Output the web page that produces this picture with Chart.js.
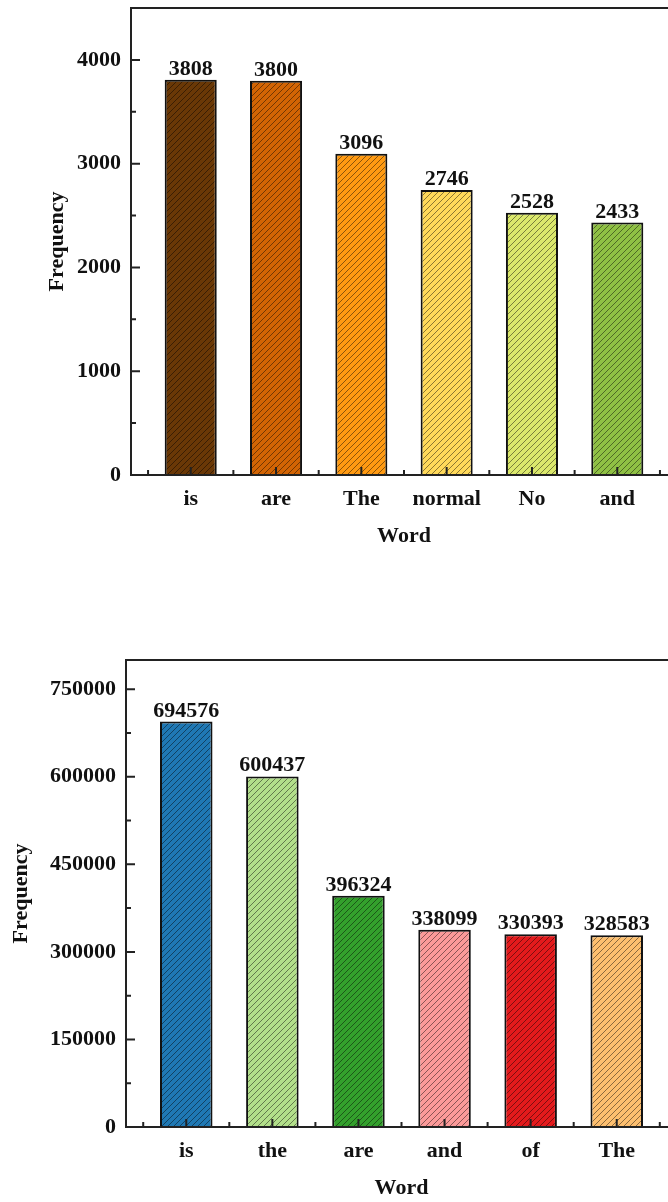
<!DOCTYPE html>
<html>
<head>
<meta charset="utf-8">
<script src="https://cdn.jsdelivr.net/npm/chart.js@4"></script>
<style>
  html, body { margin: 0; padding: 0; overflow: hidden; background: #fff; }
  .box { position: absolute; left: 0; width: 720px; height: 551px; }
</style>
</head>
<body>
<div class="box" style="top:0"><canvas id="topChart" width="720" height="551"></canvas></div>
<div class="box" style="top:652px"><canvas id="bottomChart" width="720" height="551"></canvas></div>
<script>
const topWords = ['is', 'are', 'The', 'normal', 'No', 'and'];
const topFreq = [3808, 3800, 3096, 2746, 2528, 2433];
const topColors = ['#6a3806', '#d26404', '#ff9a12', '#ffd95a', '#dbe86c', '#8fc044'];
const topYTicks = [0, 1000, 2000, 3000, 4000];

const bottomWords = ['is', 'the', 'are', 'and', 'of', 'The'];
const bottomFreq = [694576, 600437, 396324, 338099, 330393, 328583];
const bottomColors = ['#1f78b4', '#b2df8a', '#33a02c', '#fb9a99', '#e31a1c', '#fdbf6f'];
const bottomYTicks = [0, 150000, 300000, 450000, 600000, 750000];

Chart.defaults.font.family = '"Liberation Serif", "Times New Roman", serif';
Chart.defaults.font.size = 22;
Chart.defaults.font.weight = 'bold';
Chart.defaults.color = '#111';

// diagonal hatch over the fill colour
function hatch(color) {
    const c = document.createElement('canvas');
    c.width = 6; c.height = 6;
    const g = c.getContext('2d');
    g.fillStyle = color;
    g.fillRect(0, 0, 6, 6);
    g.strokeStyle = 'rgba(0, 0, 0, 0.45)';
    g.lineWidth = 1;
    g.beginPath();
    g.moveTo(0, 6); g.lineTo(6, 0);
    g.moveTo(-1, 1); g.lineTo(1, -1);
    g.moveTo(5, 7); g.lineTo(7, 5);
    g.stroke();
    return g.createPattern(c, 'repeat');
}

// box, inward ticks and value labels
const frame = {
    id: 'frame',
    afterDatasetsDraw(chart, args, opts) {
        const {ctx, chartArea: a, scales: {x, y}} = chart;
        const step = opts.yTicks[1] - opts.yTicks[0];
        ctx.save();
        ctx.strokeStyle = '#222';
        ctx.lineWidth = 2;
        ctx.beginPath();
        opts.yTicks.forEach(v => {
            const py = y.getPixelForValue(v);
            ctx.moveTo(a.left, py); ctx.lineTo(a.left + 9, py);
        });
        opts.yTicks.map(v => v + step / 2).filter(v => v < y.max).forEach(v => {
            const py = y.getPixelForValue(v);
            ctx.moveTo(a.left, py); ctx.lineTo(a.left + 5, py);
        });
        for (let i = 1; i <= opts.count; i++) {
            let px = x.getPixelForValue(i);
            ctx.moveTo(px, a.bottom); ctx.lineTo(px, a.bottom - 8);
            px = x.getPixelForValue(i - 0.5);
            ctx.moveTo(px, a.bottom); ctx.lineTo(px, a.bottom - 5);
        }
        const last = x.getPixelForValue(opts.count + 0.5);
        ctx.moveTo(last, a.bottom); ctx.lineTo(last, a.bottom - 5);
        ctx.stroke();
        ctx.strokeRect(a.left, a.top, a.right - a.left, a.bottom - a.top);

        ctx.font = 'bold 22px "Liberation Serif"';
        ctx.fillStyle = '#111';
        ctx.textAlign = 'center';
        ctx.textBaseline = 'alphabetic';
        const ds = chart.data.datasets[0];
        chart.getDatasetMeta(0).data.forEach((bar, i) => {
            ctx.fillText(String(ds.data[i].y), bar.x, bar.y - 5);
        });
        ctx.restore();
    }
};

function makeChart(id, words, freq, colors, yTicks, yMax, leftWidth, titlePad) {
    return new Chart(document.getElementById(id), {
        type: 'bar',
        data: {
            datasets: [{
                data: words.map((w, i) => ({x: i + 1, y: freq[i]})),
                backgroundColor: colors.map(hatch),
                borderColor: '#111',
                borderWidth: 2,
                barPercentage: 0.61,
                categoryPercentage: 1
            }]
        },
        options: {
            responsive: false,
            animation: false,
            devicePixelRatio: 1,
            layout: {padding: {top: 8, right: 43, left: 0, bottom: 0}},
            plugins: {
                legend: {display: false},
                tooltip: {enabled: false},
                frame: {yTicks: yTicks, count: words.length}
            },
            scales: {
                x: {
                    type: 'linear',
                    offset: false,
                    min: 0.3,
                    max: 6.7,
                    afterBuildTicks: s => { s.ticks = words.map((w, i) => ({value: i + 1})); },
                    afterFit: s => { s.height = 76; s.paddingLeft = 0; s.paddingRight = 0; },
                    grid: {display: false, drawTicks: false},
                    border: {display: false},
                    ticks: {callback: v => words[v - 1], padding: 11, autoSkip: false, maxRotation: 0},
                    title: {display: true, text: 'Word', padding: {top: 0, bottom: 1}}
                },
                y: {
                    min: 0,
                    max: yMax,
                    afterBuildTicks: s => { s.ticks = yTicks.map(v => ({value: v})); },
                    afterFit: s => { s.width = leftWidth; s.paddingTop = 0; s.paddingBottom = 0; },
                    grid: {display: false, drawTicks: false},
                    border: {display: false},
                    ticks: {callback: v => String(v), padding: 10},
                    title: {display: true, text: 'Frequency', padding: {top: titlePad, bottom: 0}}
                }
            }
        },
        plugins: [frame]
    });
}

makeChart('topChart', topWords, topFreq, topColors, topYTicks, 4500, 131, 44);
makeChart('bottomChart', bottomWords, bottomFreq, bottomColors, bottomYTicks, 800000, 126, 8);
</script>
</body>
</html>
